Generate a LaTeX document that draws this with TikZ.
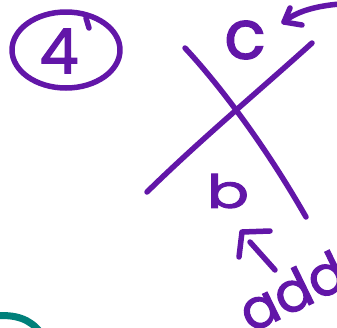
\documentclass[tikz,border=0pt]{standalone}
\usepackage{fontspec}
\setmainfont{Poppins}
\newfontfamily\handfont{Poppins}[FakeBold=2]
\definecolor{ink}{RGB}{98,22,168}
\definecolor{tealink}{RGB}{0,128,122}
\begin{document}
\begin{tikzpicture}[x=1pt,y=-1pt,
  stroke/.style={draw=ink,line width=5.5pt,line cap=round,line join=round},
  hand/.style={text=ink,inner sep=0pt,anchor=center}]
\useasboundingbox (0,0) rectangle (337,327);
\clip (0,0) rectangle (337,327);
% circled 4
\draw[stroke] (66,50) ellipse [x radius=54, y radius=38];
\draw[stroke] (86,18) -- (89,28);
\node[hand,font=\handfont\fontsize{62}{62}\selectfont] (four) at (59,51) {4};
% crossing lines
\draw[stroke] (185,48) .. controls (215,80) and (262,140) .. (306,217);
\draw[stroke] (312,43) .. controls (260,90) and (200,140) .. (147,192);
% letters
\node[hand,font=\handfont\fontsize{68}{68}\selectfont] (c) at (245,40) {c};
\node[hand,font=\handfont\fontsize{46}{46}\selectfont,xscale=1.35] (b) at (228,191) {b};
\node[hand,font=\handfont\fontsize{55}{55}\selectfont,rotate=26] (add) at (292,291) {add};
% top right arrow
\coordinate (t0) at (340,4);
\coordinate (t1) at (284,22);
\draw[stroke] (t0) .. controls (315,6) and (295,12) .. (t1);
\draw[stroke] (290,8) -- (t1) -- (302,25);
% up arrow
\coordinate (u0) at (275,270);
\coordinate (u1) at (250,242);
\draw[stroke] (u0) -- (u1);
\draw[stroke] (270,231) -- (242,232) -- (239,257);
% teal curve
\draw[draw=tealink,line width=7pt] (-5,316) .. controls (15,314) and (30,319) .. (40,332);
\end{tikzpicture}
\end{document}
